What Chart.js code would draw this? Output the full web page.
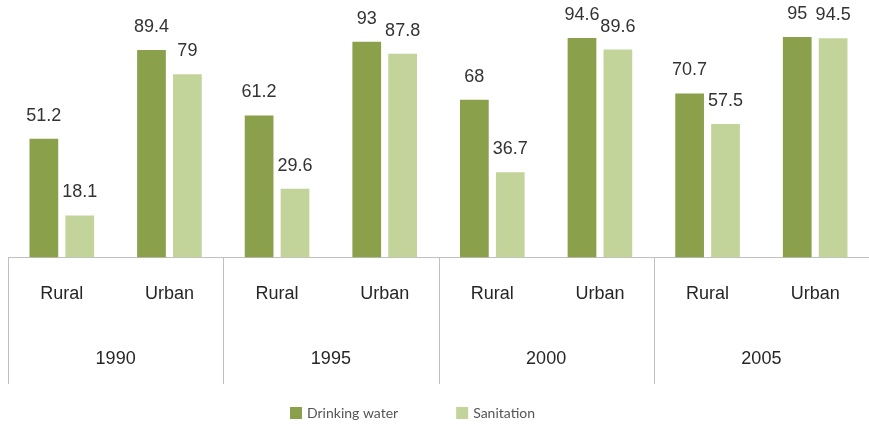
<!DOCTYPE html>
<html lang="en">
<head>
  <meta charset="UTF-8" />
  <title>Drinking water and sanitation coverage</title>
  <style>
    body { margin: 0; background: #fff; }
    #wrap { width: 869px; height: 428px; position: relative; }
  </style>
</head>
<body>

<div id="wrap"><canvas id="graph"></canvas></div>

<script src="https://cdn.jsdelivr.net/npm/chart.js"></script>
<script>
// categories (two levels)
const areas = ['Rural', 'Urban', 'Rural', 'Urban', 'Rural', 'Urban', 'Rural', 'Urban'];
const years = ['1990', '1995', '2000', '2005'];

// series values (%)
const drinkingWater = [51.2, 89.4, 61.2, 93, 68, 94.6, 70.7, 95];
const sanitation = [18.1, 79, 29.6, 87.8, 36.7, 89.6, 57.5, 94.5];

const darkGreen = '#8aa04a';
const lightGreen = '#c2d49a';
const lineGrey = '#c0c0c0';

// value labels above bars + group separators + legend
const extras = {
  id: 'extras',
  afterDatasetsDraw(chart) {
    const ctx = chart.ctx;
    ctx.save();
    ctx.font = '18px "Liberation Sans", Arial, sans-serif';
    ctx.fillStyle = '#333';
    ctx.textAlign = 'center';
    ctx.textBaseline = 'middle';
    chart.data.datasets.forEach((ds, di) => {
      chart.getDatasetMeta(di).data.forEach((bar, i) => {
        ctx.fillText(String(ds.data[i]), bar.x, bar.y - 23);
      });
    });
    ctx.restore();
  },
  afterDraw(chart) {
    const ctx = chart.ctx;
    const x2 = chart.scales.x2;
    const half = (x2.getPixelForValue(1) - x2.getPixelForValue(0)) / 2;
    const top = chart.chartArea.bottom;
    const bottom = x2.top + 53;
    ctx.save();
    ctx.strokeStyle = lineGrey;
    ctx.lineWidth = 1;
    for (let i = 0; i <= years.length; i++) {
      const x = Math.round(x2.getPixelForValue(i) - half) + 0.5;
      ctx.beginPath();
      ctx.moveTo(x, top);
      ctx.lineTo(x, bottom);
      ctx.stroke();
    }

    // legend
    ctx.font = '14px Lato, "Open Sans", sans-serif';
    ctx.textBaseline = 'middle';
    ctx.textAlign = 'left';
    let lx = 290;
    const ly = 413;
    chart.data.datasets.forEach(ds => {
      ctx.fillStyle = ds.backgroundColor;
      ctx.fillRect(lx, ly - 6, 12, 12);
      ctx.fillStyle = '#555';
      ctx.fillText(ds.label, lx + 17, ly);
      lx += 17 + ctx.measureText(ds.label).width + 58;
    });
    ctx.restore();
  }
};

const ctx = document.getElementById('graph').getContext('2d');
new Chart(ctx, {
  type: 'bar',
  data: {
    labels: areas,
    datasets: [
      { label: 'Drinking water', data: drinkingWater, backgroundColor: darkGreen,
        categoryPercentage: 0.667, barPercentage: 0.8 },
      { label: 'Sanitation', data: sanitation, backgroundColor: lightGreen,
        categoryPercentage: 0.667, barPercentage: 0.8 }
    ]
  },
  options: {
    responsive: true,
    maintainAspectRatio: false,
    animation: false,
    layout: { padding: { left: 8, right: 0, top: 0, bottom: 29 } },
    plugins: {
      legend: { display: false },
      tooltip: { enabled: false }
    },
    scales: {
      y: { display: false, min: 0, max: 111 },
      x: {
        position: 'bottom',
        grid: { display: false, drawTicks: false },
        border: { display: true, color: lineGrey, width: 1 },
        ticks: {
          padding: 26,
          color: '#262626',
          font: { family: '"Liberation Sans", Arial, sans-serif', size: 18 },
          maxRotation: 0, autoSkip: false
        }
      },
      x2: {
        type: 'category',
        labels: years,
        position: 'bottom',
        offset: true,
        grid: { display: false, drawTicks: false },
        border: { display: false },
        ticks: {
          padding: 17,
          color: '#262626',
          font: { family: '"Liberation Sans", Arial, sans-serif', size: 18 },
          maxRotation: 0, autoSkip: false
        },
        afterFit(scale) { scale.height = 68; }
      }
    }
  },
  plugins: [extras]
});
</script>

</body>
</html>
